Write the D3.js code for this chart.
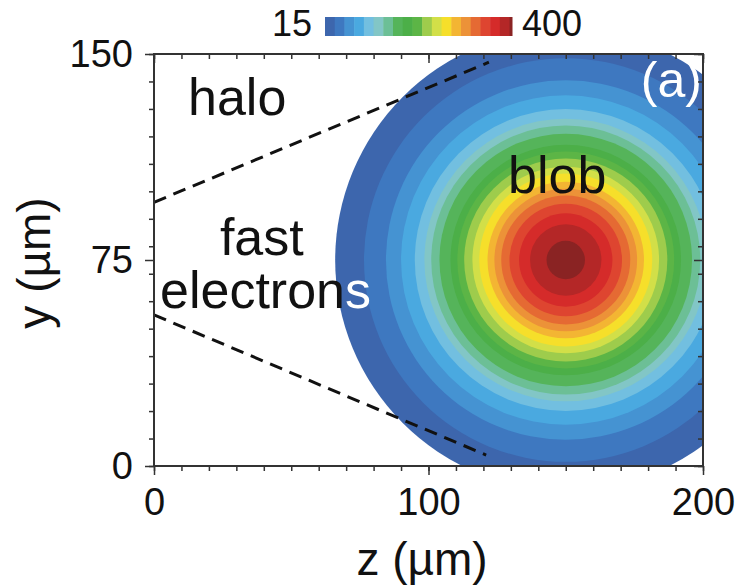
<!DOCTYPE html>
<html>
<head>
<meta charset="utf-8">
<script src="https://cdn.jsdelivr.net/npm/d3@7"></script>
<style>
  html, body { margin: 0; padding: 0; background: #fff; }
  svg { display: block; }
  text { font-family: "Liberation Sans", Arial, Helvetica, sans-serif; }
</style>
</head>
<body>
<svg id="chart" width="738" height="586"></svg>
<script>
// Contour levels (lower bound of each filled band) and the radius (µm)
// at which each level's contour sits around the blob centre.
const contourLevels = [15, 35, 55, 75, 95, 115, 135, 155, 175, 195, 215, 235, 255, 275, 295, 315, 335, 355, 375, 395];
const contourRadii  = [84, 73.5, 65.5, 60, 55, 51.5, 49, 46, 42, 39.5, 37, 34, 31.5, 28.5, 26, 23.5, 20.5, 17, 13, 7];
const bandColors = ["#3d66ad", "#3e78c0", "#4593d2", "#4aa9e0", "#72bfe0", "#82c6c6", "#6cbf96", "#55b45a",
                    "#4caf48", "#5cb546", "#9ecc4c", "#d2df48", "#f6df2a", "#f3b533", "#ec9238", "#e56a33",
                    "#de4530", "#d52b2a", "#b42727", "#8a2323"];
const colorMax = 400;
const blobCenter = [150, 75];          // [z, y] in µm

// Fast-electron cone edges, [z, y] in µm
const beamEdges = [
  [[0, 96], [122, 147]],
  [[0, 55], [121, 4]]
];

const zDomain = [0, 200], yDomain = [0, 150];
const zMajorTicks = [0, 100, 200];
const yMajorTicks = [0, 75, 150];
const minorStep = 10;
const colorbarLabels = ["15", "400"];

const svg = d3.select("#chart");
const plot = { left: 154, right: 703, top: 54, bottom: 466 };

const x = d3.scaleLinear().domain(zDomain).range([plot.left, plot.right]);
const y = d3.scaleLinear().domain(yDomain).range([plot.bottom, plot.top]);
const pxPerUm = (plot.right - plot.left) / (zDomain[1] - zDomain[0]);

const color = d3.scaleThreshold().domain(contourLevels.slice(1)).range(bandColors);

// clip region = plot frame
svg.append("defs").append("clipPath").attr("id", "plotClip")
  .append("rect")
  .attr("x", plot.left).attr("y", plot.top)
  .attr("width", plot.right - plot.left).attr("height", plot.bottom - plot.top);

const body = svg.append("g").attr("clip-path", "url(#plotClip)");

// filled contour bands, outermost first
body.selectAll("circle.band")
  .data(contourLevels.map((lv, i) => ({ lv, r: contourRadii[i] })))
  .join("circle")
  .attr("class", "band")
  .attr("cx", x(blobCenter[0]))
  .attr("cy", y(blobCenter[1]))
  .attr("r", d => d.r * pxPerUm)
  .attr("fill", d => color(d.lv));

// dashed cone edges
body.selectAll("line.edge")
  .data(beamEdges)
  .join("line")
  .attr("class", "edge")
  .attr("x1", d => x(d[0][0])).attr("y1", d => y(d[0][1]))
  .attr("x2", d => x(d[1][0])).attr("y2", d => y(d[1][1]))
  .attr("stroke", "#111")
  .attr("stroke-width", 3)
  .attr("stroke-dasharray", "13,8");

// annotations
const ann = svg.append("g").attr("font-size", 52).attr("fill", "#111");
ann.append("text").attr("x", x(12.4)).attr("y", y(127.8)).text("halo");
ann.append("text").attr("x", x(129)).attr("y", y(99.4)).text("blob");
ann.append("text").attr("x", x(24)).attr("y", y(76.8)).text("fast");
const el = ann.append("text").attr("x", x(2.2)).attr("y", y(57.5));
el.append("tspan").text("electron");
el.append("tspan").attr("fill", "#fff").text("s");
svg.append("text").attr("x", x(199.6)).attr("y", y(134.3))
  .attr("text-anchor", "end").attr("font-size", 50).attr("fill", "#fff").text("(a)");

// ticks
const zMinor = d3.range(zDomain[0], zDomain[1] + 0.01, minorStep);
const yMinor = d3.range(yDomain[0], yDomain[1] + 0.01, minorStep);
const tickColor = "#333";

const bottomAxis = d3.axisBottom(x).tickValues(zMinor).tickSize(5).tickFormat("");
const leftAxis = d3.axisLeft(y).tickValues(yMinor).tickSize(5).tickFormat("");
const topAxis = d3.axisBottom(x).tickValues(zMinor).tickSize(5).tickFormat("");
const rightAxis = d3.axisLeft(y).tickValues(yMinor).tickSize(5).tickFormat("");

function styleAxis(g) {
  g.select(".domain").remove();
  g.selectAll(".tick line").attr("stroke", tickColor).attr("stroke-width", 1.5);
}
svg.append("g").attr("transform", `translate(0,${plot.bottom})`).call(bottomAxis).call(styleAxis);
svg.append("g").attr("transform", `translate(${plot.left},0)`).call(leftAxis).call(styleAxis);
svg.append("g").attr("transform", `translate(0,${plot.top})`).call(topAxis).call(styleAxis);
svg.append("g").attr("transform", `translate(${plot.right},0)`).call(rightAxis).call(styleAxis);

// major ticks with labels
const zMajor = svg.append("g").attr("transform", `translate(0,${plot.bottom})`)
  .call(d3.axisBottom(x).tickValues(zMajorTicks).tickSize(9).tickPadding(13).tickFormat(d3.format("d")));
zMajor.select(".domain").remove();
zMajor.selectAll(".tick line").attr("stroke", tickColor).attr("stroke-width", 1.5);
zMajor.selectAll(".tick text").attr("font-size", 38).attr("fill", "#111")
  .attr("font-family", "Liberation Sans, Arial, sans-serif");

const yMajor = svg.append("g").attr("transform", `translate(${plot.left},0)`)
  .call(d3.axisLeft(y).tickValues(yMajorTicks).tickSize(9).tickPadding(12).tickFormat(d3.format("d")));
yMajor.select(".domain").remove();
yMajor.selectAll(".tick line").attr("stroke", tickColor).attr("stroke-width", 1.5);
yMajor.selectAll(".tick text").attr("font-size", 38).attr("fill", "#111")
  .attr("font-family", "Liberation Sans, Arial, sans-serif");

// inner major ticks on the mirrored sides
svg.append("g").attr("transform", `translate(${plot.right},0)`)
  .call(d3.axisLeft(y).tickValues(yMajorTicks).tickSize(9).tickFormat(""))
  .call(styleAxis);
svg.append("g").attr("transform", `translate(0,${plot.top})`)
  .call(d3.axisBottom(x).tickValues(zMajorTicks).tickSize(9).tickFormat(""))
  .call(styleAxis);

// frame
svg.append("rect")
  .attr("x", plot.left).attr("y", plot.top)
  .attr("width", plot.right - plot.left).attr("height", plot.bottom - plot.top)
  .attr("fill", "none").attr("stroke", "#333").attr("stroke-width", 2);

// axis titles
svg.append("text").attr("x", 422).attr("y", 575).attr("text-anchor", "middle")
  .attr("font-size", 46).attr("fill", "#111").text("z (µm)");
svg.append("text").attr("transform", "translate(50,263) rotate(-90)").attr("text-anchor", "middle")
  .attr("font-size", 46).attr("fill", "#111").text("y (µm)");

// colour bar
const cb = d3.scaleLinear().domain([contourLevels[0], colorMax]).range([325, 512]);
const cbTop = 17, cbHeight = 19;
svg.append("g").selectAll("rect")
  .data(contourLevels.map((lv, i) => [lv, i + 1 < contourLevels.length ? contourLevels[i + 1] : colorMax]))
  .join("rect")
  .attr("x", d => cb(d[0]))
  .attr("y", cbTop)
  .attr("width", d => cb(d[1]) - cb(d[0]) + 0.5)
  .attr("height", cbHeight)
  .attr("fill", d => color(d[0]));
svg.append("text").attr("x", cb(contourLevels[0]) - 13).attr("y", 36).attr("text-anchor", "end")
  .attr("font-size", 36).attr("fill", "#111").text(colorbarLabels[0]);
svg.append("text").attr("x", cb(colorMax) + 10).attr("y", 36).attr("text-anchor", "start")
  .attr("font-size", 36).attr("fill", "#111").text(colorbarLabels[1]);
</script>
</body>
</html>
